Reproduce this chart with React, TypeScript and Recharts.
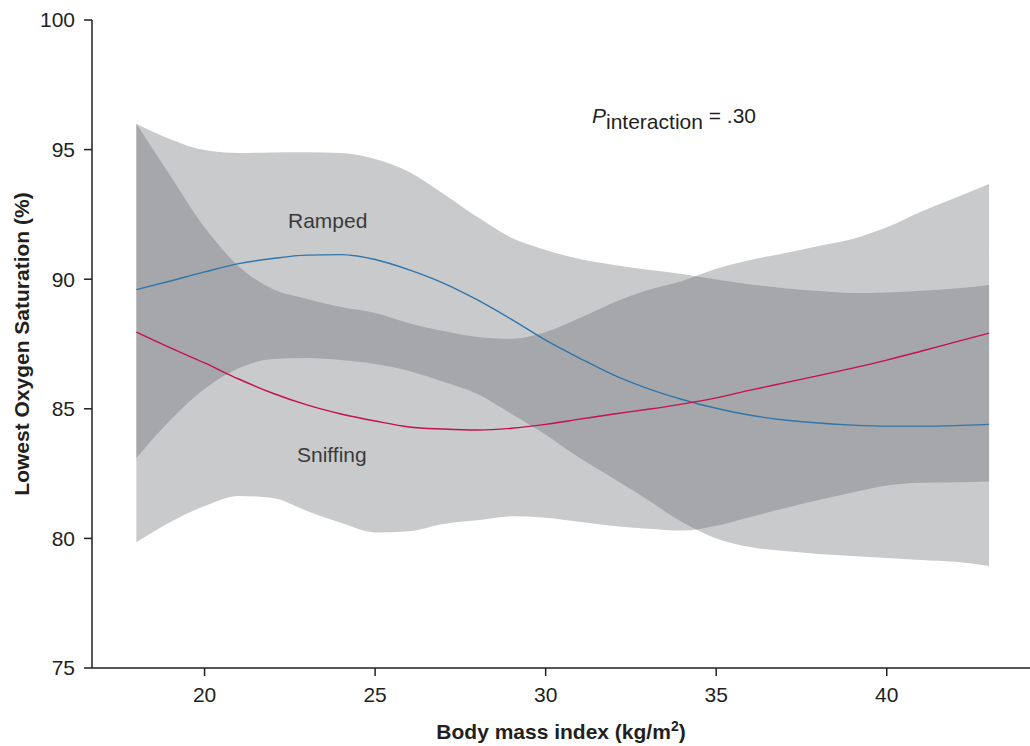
import { Area, ComposedChart, Line, XAxis, YAxis } from 'recharts'

const bmi = [18, 19, 20, 21, 22, 23, 24, 25, 26, 27, 28, 29, 30, 31, 32, 33, 34, 35, 36, 37, 38, 39, 40, 41, 42, 43]

const rampedMean = [89.6, 89.93, 90.28, 90.6, 90.8, 90.93, 90.95, 90.76, 90.36, 89.85, 89.2, 88.45, 87.65, 86.95, 86.3, 85.78, 85.36, 85.02, 84.75, 84.57, 84.45, 84.37, 84.33, 84.33, 84.35, 84.4]
const rampedHi = [96.0, 95.4, 94.98, 94.87, 94.89, 94.9, 94.87, 94.64, 94.14, 93.3, 92.4, 91.6, 91.13, 90.78, 90.55, 90.36, 90.2, 89.99, 89.8, 89.65, 89.54, 89.47, 89.49, 89.55, 89.64, 89.78]
const rampedLo = [83.1, 84.57, 85.76, 86.56, 86.92, 86.96, 86.88, 86.73, 86.46, 86.04, 85.57, 84.8, 84.0, 83.1, 82.3, 81.48, 80.63, 80.0, 79.67, 79.51, 79.4, 79.32, 79.24, 79.17, 79.1, 78.94]

const sniffingMean = [87.96, 87.35, 86.77, 86.15, 85.6, 85.15, 84.8, 84.53, 84.3, 84.22, 84.18, 84.25, 84.4, 84.6, 84.8, 84.98, 85.18, 85.42, 85.72, 86.0, 86.28, 86.57, 86.88, 87.22, 87.57, 87.92]
const sniffingHi = [96.0, 93.98, 92.0, 90.5, 89.62, 89.24, 88.93, 88.7, 88.3, 88.0, 87.77, 87.7, 87.96, 88.5, 89.1, 89.58, 89.93, 90.4, 90.74, 91.0, 91.28, 91.55, 92.0, 92.6, 93.13, 93.67]
const sniffingLo = [79.85, 80.63, 81.25, 81.64, 81.56, 81.06, 80.6, 80.23, 80.28, 80.56, 80.7, 80.85, 80.8, 80.64, 80.48, 80.37, 80.3, 80.49, 80.83, 81.16, 81.48, 81.77, 82.04, 82.15, 82.17, 82.2]

const xTicks = [20, 25, 30, 35, 40]
const yTicks = [75, 80, 85, 90, 95, 100]

const data = bmi.map((b, i) => ({
  bmi: b,
  ramped: rampedMean[i],
  sniffing: sniffingMean[i],
  rampedBand: [rampedLo[i], rampedHi[i]],
  sniffingBand: [sniffingLo[i], sniffingHi[i]],
}))

const FONT = '"Liberation Sans", Arial, Helvetica, sans-serif'
const INK = '#231f20'
const BAND = '#63676d'

function XTitle({ viewBox }: { viewBox?: { x: number; y: number; width: number } }) {
  if (!viewBox) return null
  const { x, y, width } = viewBox
  return (
    <text
      x={x + width / 2}
      y={y + 71}
      textAnchor="middle"
      fontFamily={FONT}
      fontSize={21}
      fontWeight="bold"
      fill={INK}
    >
      Body mass index (kg/m<tspan dy={-8} fontSize={14}>2</tspan>
      <tspan dy={8}>)</tspan>
    </text>
  )
}

export default function App() {
  return (
    <div style={{ position: 'absolute', left: 0, top: 0, background: '#fff' }}>
      <ComposedChart
        width={1030}
        height={746}
        data={data}
        margin={{ top: 20, right: 0, bottom: 0, left: 0 }}
        style={{ fontFamily: FONT }}
      >
        <XAxis
          dataKey="bmi"
          type="number"
          domain={[16.7, 44.2]}
          ticks={xTicks}
          allowDataOverflow
          height={78}
          tickSize={8}
          tickMargin={11}
          stroke={INK}
          strokeWidth={1.5}
          tick={{ fill: INK, fontSize: 21, fontFamily: FONT }}
          label={<XTitle />}
        />
        <YAxis
          type="number"
          domain={[75, 100]}
          ticks={yTicks}
          allowDataOverflow
          width={92}
          tickSize={8}
          tickMargin={9}
          stroke={INK}
          strokeWidth={1.5}
          tick={{ fill: INK, fontSize: 21, fontFamily: FONT }}
        />
        <Area
          dataKey="rampedBand"
          type="monotone"
          fill={BAND}
          fillOpacity={0.35}
          stroke="none"
          isAnimationActive={false}
        />
        <Area
          dataKey="sniffingBand"
          type="monotone"
          fill={BAND}
          fillOpacity={0.35}
          stroke="none"
          isAnimationActive={false}
        />
        <Line
          dataKey="ramped"
          type="monotone"
          stroke="#2f76ab"
          strokeWidth={1.4}
          dot={false}
          activeDot={false}
          isAnimationActive={false}
        />
        <Line
          dataKey="sniffing"
          type="monotone"
          stroke="#c5114c"
          strokeWidth={1.4}
          dot={false}
          activeDot={false}
          isAnimationActive={false}
        />
        <text
          x={21}
          y={344}
          transform="rotate(-90 21 344)"
          textAnchor="middle"
          dominantBaseline="central"
          fontFamily={FONT}
          fontSize={21}
          fontWeight="bold"
          fill={INK}
        >
          Lowest Oxygen Saturation (%)
        </text>
        <text x={288} y={228} fontFamily={FONT} fontSize={21} fill={INK}>
          Ramped
        </text>
        <text x={297} y={462} fontFamily={FONT} fontSize={21} fill={INK}>
          Sniffing
        </text>
        <text x={592} y={123} fontFamily={FONT} fontSize={21} fill={INK}>
          <tspan fontStyle="italic">P</tspan>
          <tspan dy={6}>interaction</tspan>
          <tspan dy={-6}> = .30</tspan>
        </text>
      </ComposedChart>
    </div>
  )
}
